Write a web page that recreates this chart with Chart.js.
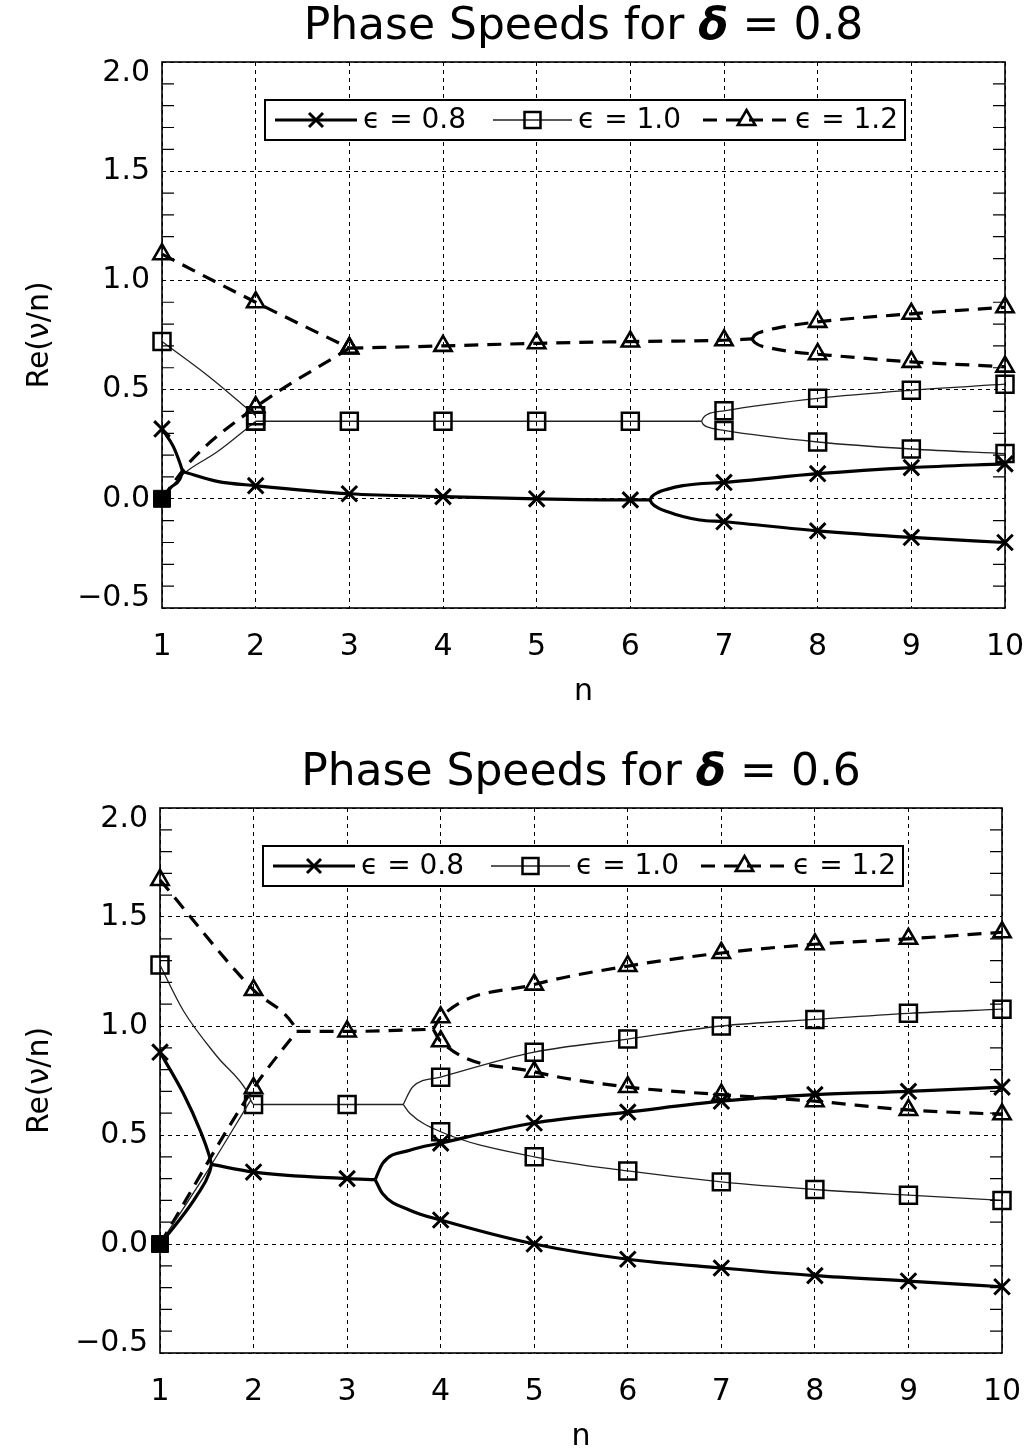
<!DOCTYPE html>
<html>
<head>
<meta charset="utf-8">
<script src="https://cdn.jsdelivr.net/npm/chart.js@4"></script>
<style>
  html, body { margin: 0; padding: 0; background: #fff; }
  .wrap { position: absolute; left: 0; width: 1029px; }
  #top { top: 0; height: 703px; }
  #bot { top: 703px; height: 745px; }
</style>
</head>
<body>
<div class="wrap" id="top"><canvas id="phase08"></canvas></div>
<div class="wrap" id="bot"><canvas id="phase06"></canvas></div>
<script>
var nTicks = [1, 2, 3, 4, 5, 6, 7, 8, 9, 10];
var yTickLabels = ['\u22120.5', '0.0', '0.5', '1.0', '1.5', '2.0'];
var epsLabels = ['\u03f5 = 0.8', '\u03f5 = 1.0', '\u03f5 = 1.2'];

// ---- delta = 0.8 : [n, Re(nu/n)] ----
// eps = 0.8
var a_e08_down = [[1, 0.32], [1.12, 0.24], [1.19, 0.165], [1.22, 0.125]];
var a_e08_up   = [[1, 0], [1.09, 0.05], [1.19, 0.09], [1.22, 0.125]];
var a_e08_mid  = [[1.22, 0.125], [1.59, 0.08], [2, 0.06], [3, 0.023], [4, 0.01], [5, 0.0], [6, -0.005], [6.21, -0.005]];
var a_e08_hi   = [[6.21, -0.005], [6.23, 0.01], [6.3, 0.03], [6.39, 0.043], [6.56, 0.06], [6.74, 0.069], [7, 0.075], [8, 0.115], [9, 0.143], [10, 0.16]];
var a_e08_lo   = [[6.21, -0.005], [6.23, -0.02], [6.3, -0.043], [6.39, -0.058], [6.56, -0.081], [6.74, -0.097], [7, -0.105], [8, -0.147], [9, -0.177], [10, -0.2]];
// eps = 1.0
var a_e10_down = [[1, 0.72], [1.5, 0.56], [2, 0.38]];
var a_e10_up   = [[1, 0], [1.22, 0.11], [1.59, 0.215], [1.9, 0.32], [2, 0.355]];
var a_e10_mid  = [[2, 0.355], [3, 0.355], [4, 0.355], [5, 0.355], [6, 0.355], [6.76, 0.355]];
var a_e10_hi   = [[6.76, 0.355], [6.78, 0.372], [6.83, 0.388], [7, 0.403], [8, 0.46], [9, 0.497], [10, 0.525]];
var a_e10_lo   = [[6.76, 0.355], [6.78, 0.34], [6.83, 0.328], [7, 0.313], [8, 0.26], [9, 0.228], [10, 0.207]];
// eps = 1.2
var a_e12_down = [[1, 1.12], [2, 0.9], [3, 0.69]];
var a_e12_up   = [[1, 0], [1.3, 0.17], [2, 0.42], [3, 0.69]];
var a_e12_mid  = [[3, 0.69], [4, 0.7], [5, 0.712], [6, 0.72], [7, 0.726], [7.3, 0.732]];
var a_e12_hi   = [[7.3, 0.732], [7.33, 0.75], [7.45, 0.77], [7.6, 0.785], [8, 0.81], [9, 0.847], [10, 0.877]];
var a_e12_lo   = [[7.3, 0.732], [7.33, 0.715], [7.5, 0.69], [7.75, 0.672], [8, 0.662], [9, 0.627], [10, 0.605]];

// ---- delta = 0.6 ----
// eps = 0.8
var b_e08_down = [[1, 0.88], [1.25, 0.69], [1.43, 0.52], [1.53, 0.4], [1.55, 0.365]];
var b_e08_up   = [[1, 0], [1.18, 0.095], [1.39, 0.22], [1.53, 0.33], [1.55, 0.365]];
var b_e08_mid  = [[1.55, 0.365], [2, 0.33], [3, 0.3], [3.3, 0.295]];
var b_e08_hi   = [[3.3, 0.295], [3.38, 0.37], [3.67, 0.43], [4, 0.463], [5, 0.555], [6, 0.605], [7, 0.655], [8, 0.685], [9, 0.7], [10, 0.72]];
var b_e08_lo   = [[3.3, 0.295], [3.38, 0.23], [3.67, 0.155], [4, 0.11], [5, 0.0], [6, -0.07], [7, -0.11], [8, -0.145], [9, -0.17], [10, -0.196]];
// eps = 1.0
var b_e10_down = [[1, 1.28], [1.25, 1.07], [1.61, 0.86], [1.93, 0.7], [1.97, 0.66]];
var b_e10_up   = [[1, 0], [1.5, 0.33], [1.97, 0.66]];
var b_e10_mid  = [[1.97, 0.66], [2, 0.64], [3, 0.64], [3.6, 0.64]];
var b_e10_hi   = [[3.6, 0.64], [3.7, 0.72], [4, 0.765], [5, 0.88], [6, 0.94], [7, 1.0], [8, 1.03], [9, 1.058], [10, 1.077]];
var b_e10_lo   = [[3.6, 0.64], [3.67, 0.6], [4, 0.515], [5, 0.4], [6, 0.335], [7, 0.285], [8, 0.25], [9, 0.224], [10, 0.2]];
// eps = 1.2
var b_e12_down = [[1, 1.67], [2, 1.165], [2.42, 1.01], [2.46, 0.975]];
var b_e12_up   = [[1, 0], [2, 0.715], [2.46, 0.975]];
var b_e12_mid  = [[2.46, 0.975], [3, 0.975], [3.92, 0.985]];
var b_e12_hi   = [[3.92, 0.985], [4, 1.04], [5, 1.19], [6, 1.275], [7, 1.335], [8, 1.375], [9, 1.4], [10, 1.43]];
var b_e12_lo   = [[3.92, 0.985], [4, 0.93], [5, 0.79], [6, 0.72], [7, 0.685], [8, 0.655], [9, 0.615], [10, 0.595]];

var origin = [[1, 0]];

Chart.defaults.font.family = '"DejaVu Sans", sans-serif';
Chart.defaults.color = '#000';

var looks = [
  { width: 3.2, color: '#000', dash: [], marker: 'crossRot', r: 11, pbw: 3 },
  { width: 1.3, color: '#222', dash: [], marker: 'rect', r: 12, pbw: 2.5 },
  { width: 3.2, color: '#000', dash: [14, 9], marker: 'triangle', r: 10, pbw: 2.6 }
];

function branch(pts, eps, fromOrigin) {
  var lk = looks[eps];
  return {
    data: pts.map(function (p) { return { x: p[0], y: p[1] }; }),
    borderColor: lk.color,
    borderWidth: lk.width,
    borderDash: lk.dash,
    cubicInterpolationMode: 'monotone',
    fill: false,
    clip: false,
    pointStyle: lk.marker,
    pointBorderColor: '#000',
    pointBackgroundColor: 'rgba(255,255,255,0)',
    pointBorderWidth: lk.pbw,
    pointRadius: function (c) {
      if (!c.raw || !Number.isInteger(c.raw.x)) return 0;
      if (fromOrigin && c.dataIndex === 0) return 0;
      return lk.r;
    }
  };
}

function originSet() {
  return {
    data: origin.map(function (p) { return { x: p[0], y: p[1] }; }),
    showLine: false, clip: false,
    pointStyle: 'rect', pointRadius: 12,
    pointBackgroundColor: '#000', pointBorderColor: '#000', pointBorderWidth: 1
  };
}

function drawMark(ctx, kind, x, y) {
  ctx.save();
  ctx.setLineDash([]);
  ctx.strokeStyle = '#000';
  ctx.beginPath();
  if (kind === 'crossRot') {
    ctx.lineWidth = 3;
    ctx.moveTo(x - 7, y - 7); ctx.lineTo(x + 7, y + 7);
    ctx.moveTo(x + 7, y - 7); ctx.lineTo(x - 7, y + 7);
  } else if (kind === 'rect') {
    ctx.lineWidth = 2.5;
    ctx.rect(x - 8, y - 8, 16, 16);
  } else {
    ctx.lineWidth = 2.6;
    ctx.moveTo(x, y - 10); ctx.lineTo(x + 8.7, y + 5); ctx.lineTo(x - 8.7, y + 5); ctx.closePath();
  }
  ctx.stroke();
  ctx.restore();
}

var framePlugin = {
  id: 'frame',
  afterDatasetsDraw: function (chart, args, opts) {
    var ctx = chart.ctx, ca = chart.chartArea;
    // legend box
    var bx = ca.left + 103, by = ca.top + 38, bw = 640, bh = 40;
    var cy = by + bh / 2;
    ctx.save();
    ctx.fillStyle = '#fff';
    ctx.fillRect(bx, by, bw, bh);
    ctx.strokeStyle = '#000';
    ctx.lineWidth = 2;
    ctx.strokeRect(bx, by, bw, bh);
    var sx = [10, 228, 438], sw = [82, 79, 87], tx = [98, 313, 530];
    for (var i = 0; i < 3; i++) {
      var lk = looks[i];
      ctx.save();
      ctx.strokeStyle = lk.color;
      ctx.lineWidth = lk.width;
      ctx.setLineDash(lk.dash);
      ctx.beginPath();
      ctx.moveTo(bx + sx[i], cy);
      ctx.lineTo(bx + sx[i] + sw[i], cy);
      ctx.stroke();
      ctx.restore();
      drawMark(ctx, lk.marker, bx + sx[i] + sw[i] / 2, cy);
      ctx.fillStyle = '#000';
      ctx.font = '28px "DejaVu Sans"';
      ctx.textBaseline = 'middle';
      ctx.textAlign = 'left';
      ctx.fillText(epsLabels[i], bx + tx[i], cy + 1);
    }
    ctx.restore();
  },
  afterDraw: function (chart, args, opts) {
    var ctx = chart.ctx, ca = chart.chartArea;
    var xs = chart.scales.x, ys = chart.scales.y;
    ctx.save();
    ctx.strokeStyle = '#000';
    ctx.lineWidth = 1.2;
    ctx.beginPath();
    for (var k = -5; k <= 20; k++) {
      if (k % 5 === 0) continue;
      var py = ys.getPixelForValue(k / 10);
      ctx.moveTo(ca.left, py); ctx.lineTo(ca.left + 12, py);
      ctx.moveTo(ca.right, py); ctx.lineTo(ca.right - 12, py);
    }
    ctx.stroke();
    ctx.lineWidth = 1.6;
    ctx.strokeRect(ca.left, ca.top, ca.right - ca.left, ca.bottom - ca.top);
    ctx.fillStyle = '#000';
    ctx.font = '30px "DejaVu Sans"';
    ctx.textBaseline = 'middle';
    // y tick labels, end ones nudged inside the frame as in the original
    ctx.textAlign = 'right';
    for (var i = 0; i < yTickLabels.length; i++) {
      var ly = ys.getPixelForValue(-0.5 + 0.5 * i);
      if (i === 0) ly -= 10;
      if (i === yTickLabels.length - 1) ly += 11;
      ctx.fillText(yTickLabels[i], ca.left - 12, ly);
    }
    // x tick labels
    ctx.textAlign = 'center';
    for (var j = 0; j < nTicks.length; j++) {
      ctx.fillText(String(nTicks[j]), xs.getPixelForValue(nTicks[j]), ca.bottom + 39);
    }
    // title with bold italic delta
    var p1 = 'Phase Speeds for ', p2 = '\u03b4', p3 = ' = ' + opts.delta;
    var fN = '44px "DejaVu Sans"', fB = 'italic bold 44px "DejaVu Sans"';
    ctx.font = fN; var w1 = ctx.measureText(p1).width, w3 = ctx.measureText(p3).width;
    ctx.font = fB; var w2 = ctx.measureText(p2).width;
    var x0 = (ca.left + ca.right) / 2 - (w1 + w2 + w3) / 2;
    var ty = ca.top - 34;
    ctx.textAlign = 'left';
    ctx.font = fN; ctx.fillText(p1, x0, ty);
    ctx.font = fB; ctx.fillText(p2, x0 + w1, ty);
    ctx.font = fN; ctx.fillText(p3, x0 + w1 + w2, ty);
    ctx.restore();
  }
};

function makeChart(id, sets, delta, geo) {
  var datasets = sets.map(function (s) { return branch(s[0], s[1], s[2]); });
  datasets.push(originSet());
  return new Chart(document.getElementById(id).getContext('2d'), {
    type: 'line',
    data: { datasets: datasets },
    options: {
      responsive: true,
      maintainAspectRatio: false,
      animation: false,
      events: [],
      layout: { padding: { top: geo.top, right: geo.right, left: 0, bottom: 0 } },
      plugins: { legend: { display: false }, tooltip: { enabled: false }, frame: { delta: delta } },
      scales: {
        x: {
          type: 'linear', min: 1, max: 10,
          ticks: { stepSize: 1, display: false },
          grid: { color: '#000', lineWidth: 1, drawTicks: false },
          border: { display: false, dash: [4, 4] },
          title: { display: true, text: 'n', color: '#000', font: { size: 30, lineHeight: 1 }, padding: { top: 0, bottom: -4 } },
          afterFit: function (s) { s.height = 95; }
        },
        y: {
          type: 'linear', min: -0.5, max: 2.0,
          ticks: { stepSize: 0.5, display: false },
          grid: { color: '#000', lineWidth: 1, drawTicks: false },
          border: { display: false, dash: [4, 4] },
          title: { display: true, text: 'Re(\u03bd/n)', color: '#000', font: { size: 30, lineHeight: 1 }, padding: { top: 25, bottom: 0 } },
          afterFit: function (s) { s.width = geo.yw; }
        }
      }
    },
    plugins: [framePlugin]
  });
}

var chartTop = makeChart('phase08', [
  [a_e08_down, 0], [a_e08_up, 0, true], [a_e08_mid, 0], [a_e08_hi, 0], [a_e08_lo, 0],
  [a_e10_down, 1], [a_e10_up, 1, true], [a_e10_mid, 1], [a_e10_hi, 1], [a_e10_lo, 1],
  [a_e12_down, 2], [a_e12_up, 2, true], [a_e12_mid, 2], [a_e12_hi, 2], [a_e12_lo, 2]
], '0.8', { top: 62, right: 24, yw: 162 });

var chartBot = makeChart('phase06', [
  [b_e08_down, 0], [b_e08_up, 0, true], [b_e08_mid, 0], [b_e08_hi, 0], [b_e08_lo, 0],
  [b_e10_down, 1], [b_e10_up, 1, true], [b_e10_mid, 1], [b_e10_hi, 1], [b_e10_lo, 1],
  [b_e12_down, 2], [b_e12_up, 2, true], [b_e12_mid, 2], [b_e12_hi, 2], [b_e12_lo, 2]
], '0.6', { top: 105, right: 27, yw: 160 });
</script>
</body>
</html>
